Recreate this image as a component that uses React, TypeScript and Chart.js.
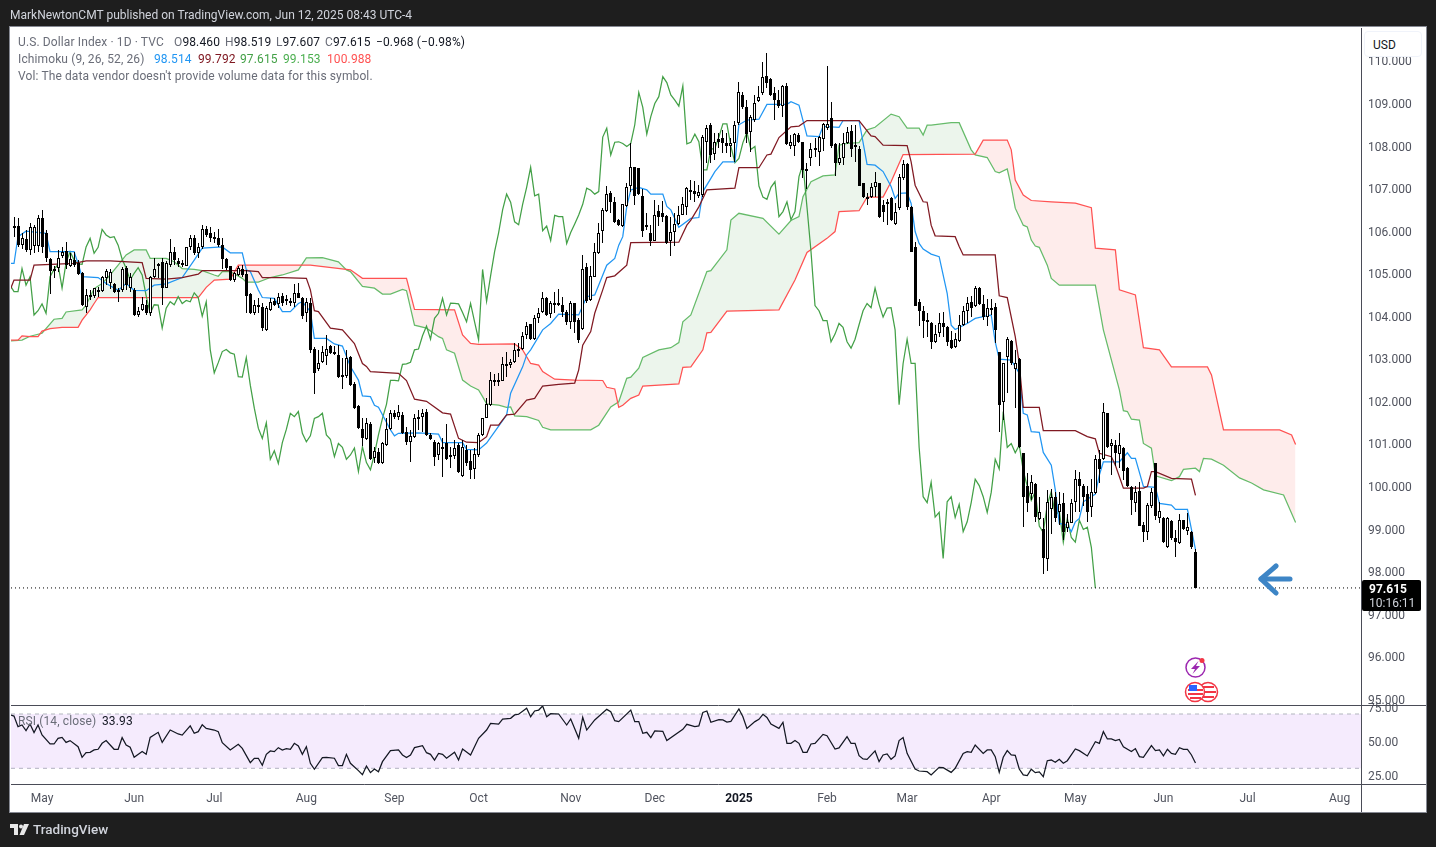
import React, { useEffect, useRef } from "react";
import { Chart, registerables } from "chart.js";

Chart.register(...registerables);

type Row = [number, number, number, number];
type Knot = [number, number];

// open, high, low, close per session
const candlesSpring2024: Row[] = [
[106.18,106.38,105.99,106.10],[106.10,106.34,105.87,106.12],[106.12,106.30,105.63,105.67],[105.67,105.95,105.59,105.83],[105.81,106.03,105.52,105.56],[105.56,106.18,105.44,106.09],[105.65,106.14,105.48,106.09],[105.65,106.38,105.52,106.30],[106.32,106.50,105.48,105.62],[105.95,106.03,105.28,105.36],
[105.34,105.38,104.52,105.07],[105.10,105.19,104.89,105.12],[105.14,105.56,105.05,105.38],[105.41,105.63,105.36,105.50],[105.53,105.74,105.12,105.20],[105.19,105.48,105.16,105.34],[105.32,105.52,105.16,105.20],[105.24,105.32,104.97,104.99],[105.01,105.05,104.24,104.26],[104.21,104.63,104.07,104.50],
[104.49,104.62,104.38,104.51],[104.48,104.66,104.42,104.66],[104.60,104.69,104.46,104.62],[104.60,104.94,104.58,104.93],[104.89,105.12,104.73,105.07],[104.79,105.10,104.65,105.05],[104.76,104.77,104.55,104.58],[104.62,104.66,104.34,104.58],[104.62,105.16,104.58,105.12],[105.14,105.18,104.62,104.73],
[104.66,105.01,104.58,104.93],[104.62,104.66,104.01,104.03],[104.03,104.22,103.99,104.13],[104.15,104.46,104.12,104.29],[104.26,104.38,104.03,104.07],[104.07,104.94,104.01,104.93],[104.93,105.38,104.91,105.10],[105.20,105.26,104.89,105.22],[105.28,105.36,104.26,104.66],[104.67,105.30,104.66,105.26],
[105.20,105.81,105.16,105.52],[105.50,105.63,105.20,105.32],[105.30,105.36,105.16,105.23],[105.24,105.32,105.16,105.22],[105.19,105.63,105.18,105.63],[105.63,105.91,105.56,105.83],[105.85,105.91,105.45,105.48],[105.48,105.73,105.36,105.62],[105.62,106.14,105.59,106.04],[106.06,106.12,105.87,105.91],
[105.95,106.09,105.75,105.85],[105.84,105.99,105.71,105.87],[105.85,106.04,105.63,105.67],[105.67,105.83,105.12,105.34],[105.34,105.36,105.08,105.13],[105.18,105.18,104.83,104.85],[104.85,105.05,104.81,105.01],[104.97,105.19,104.94,105.14],[105.12,105.20,104.93,104.97],
];
const candlesSummer2024: Row[] = [
[104.99,105.09,104.07,104.48],[104.52,104.54,104.05,104.07],[104.07,104.38,104.03,104.27],[104.24,104.42,104.07,104.26],[104.21,104.30,103.66,103.72],[103.68,104.23,103.66,104.19],[104.15,104.42,104.13,104.34],[104.36,104.42,104.24,104.27],[104.29,104.54,104.19,104.46],[104.48,104.55,104.23,104.30],
[104.40,104.50,104.26,104.37],[104.36,104.42,104.23,104.34],[104.32,104.76,104.21,104.55],[104.55,104.79,104.42,104.44],[104.42,104.45,103.93,104.00],[104.07,104.42,103.87,104.34],[104.32,104.42,103.14,103.21],[103.22,103.27,102.17,102.67],[102.75,103.21,102.72,102.91],[102.93,103.29,102.89,103.17],
[103.07,103.56,102.85,103.22],[103.29,103.32,103.11,103.14],[103.17,103.29,103.09,103.11],[103.09,103.32,102.54,102.58],[102.62,103.01,102.28,102.57],[102.60,103.21,102.56,103.03],[103.05,103.07,102.37,102.38],[102.41,102.46,101.81,101.84],[101.89,101.91,101.34,101.37],[101.34,101.60,100.94,101.13],
[101.11,101.62,101.09,101.50],[101.47,101.52,100.61,100.64],[100.68,100.93,100.54,100.84],[100.82,100.90,100.53,100.54],[100.54,101.05,100.53,101.03],[100.98,101.60,100.95,101.34],[101.34,101.80,101.33,101.72],[101.72,101.80,101.58,101.64],[101.64,101.91,101.56,101.76],[101.68,101.76,101.23,101.25],
[101.27,101.40,100.97,101.05],[101.05,101.33,100.58,101.19],[101.17,101.70,101.15,101.60],[101.62,101.79,101.33,101.64],[101.64,101.81,101.29,101.72],[101.76,101.81,101.19,101.21],[101.21,101.25,101.09,101.11],[101.05,101.09,100.49,100.70],[100.74,101.05,100.62,101.01],[100.93,101.13,100.23,100.92],
[101.03,101.46,100.61,100.64],[100.69,100.93,100.43,100.74],[100.72,101.08,100.64,100.90],[100.97,101.03,100.31,100.35],[100.25,101.09,100.23,100.93],[100.86,100.97,100.47,100.56],[100.60,100.86,100.17,100.39],[100.40,100.90,100.17,100.76],[100.74,101.25,100.70,101.21],[101.21,101.60,101.19,101.60],
[101.62,102.09,101.60,101.93],[101.91,102.70,101.89,102.49],[102.47,102.64,102.36,102.49],[102.49,102.66,102.35,102.48],
];
const candlesAutumn2024: Row[] = [
[102.48,103.05,102.47,102.87],[102.86,103.17,102.58,102.88],[102.86,102.99,102.79,102.92],[102.92,103.38,102.90,103.21],[103.22,103.38,103.05,103.23],[103.23,103.62,103.21,103.54],[103.55,103.87,103.47,103.77],[103.81,103.81,103.45,103.46],[103.46,104.03,103.44,103.95],[103.97,104.19,103.84,104.07],
[104.09,104.58,104.07,104.42],[104.42,104.46,104.01,104.03],[104.05,104.35,103.95,104.31],[104.29,104.56,104.07,104.30],[104.30,104.63,104.23,104.29],[104.27,104.46,103.99,104.09],[104.09,104.15,103.80,103.87],[103.86,104.37,103.69,104.30],[104.30,104.30,103.60,103.87],[103.91,103.95,103.38,103.45],
[103.69,105.44,103.68,105.10],[105.15,105.24,104.32,104.35],[104.38,105.17,104.37,104.95],[104.93,105.71,104.92,105.52],[105.48,106.18,105.46,105.96],[106.01,106.54,105.73,106.50],[106.48,107.05,106.46,106.87],[106.89,106.95,106.42,106.68],[106.68,106.80,106.20,106.22],[106.26,106.28,106.12,106.15],
[106.11,106.63,106.09,106.63],[106.58,107.14,106.56,107.03],[107.05,108.07,106.93,107.50],[107.50,107.50,106.62,106.83],[107.48,107.48,106.85,106.87],[106.83,106.98,105.87,106.01],[106.14,106.42,106.03,106.12],[105.95,106.14,105.64,105.78],[105.78,106.73,105.76,106.37],[106.47,106.62,106.12,106.34],
[106.42,106.72,106.22,106.34],[106.36,106.38,105.70,105.71],[105.78,106.34,105.42,105.97],[105.98,106.42,105.64,106.17],[106.17,106.58,106.15,106.38],[106.38,106.81,106.37,106.63],[106.56,107.03,106.38,107.01],[106.95,107.20,106.73,106.96],[106.94,107.19,106.69,106.87],[106.83,107.08,106.77,106.93],
];
const candlesWinter2025: Row[] = [
[106.85,108.26,106.81,108.21],[108.10,108.50,107.59,108.42],[108.50,108.53,107.61,107.79],[107.81,108.30,107.67,108.09],[108.17,108.31,107.95,108.10],[108.18,108.38,107.83,108.06],[108.08,108.30,107.83,107.99],[107.99,108.18,107.75,108.06],[108.08,108.60,107.63,108.50],[108.53,109.51,108.50,109.26],
[109.20,109.28,108.88,108.91],[108.91,109.08,108.06,108.28],[108.34,108.73,107.87,108.69],[108.61,109.20,108.57,109.00],[109.07,109.40,109.04,109.16],[109.24,109.98,109.20,109.63],[109.65,110.18,109.36,109.49],[109.57,109.59,109.18,109.20],[109.25,109.38,108.61,109.08],[109.08,109.32,108.89,108.94],
[108.93,109.43,108.69,109.41],[109.41,109.49,108.02,108.05],[107.99,108.26,107.93,108.09],[107.99,108.30,107.77,108.28],[108.26,108.30,108.06,108.10],[108.09,108.10,107.24,107.44],[107.47,107.59,106.98,107.44],[107.71,108.06,107.52,107.92],[107.90,108.18,107.75,107.95],[107.87,108.24,107.52,108.21],
[108.16,108.55,107.89,108.52],[108.42,109.88,108.38,108.52],[108.67,109.04,107.95,107.99],[108.04,108.06,107.30,107.61],[107.61,108.08,107.56,107.71],[107.71,108.30,107.56,108.08],[108.08,108.44,108.05,108.32],[108.35,108.50,107.75,107.92],[108.02,108.50,107.63,107.99],[107.93,107.99,107.05,107.06],
[107.14,107.14,106.77,106.80],[106.80,106.89,106.62,106.75],[106.81,107.12,106.77,107.03],[107.03,107.40,106.80,107.16],[107.14,107.14,106.30,106.34],[106.62,106.73,106.22,106.46],[106.64,106.75,106.15,106.69],
];
const candlesSpring2025: Row[] = [
[106.77,106.80,106.25,106.27],[106.17,106.65,106.15,106.46],[106.54,107.34,106.50,107.28],[107.24,107.67,107.20,107.58],[107.58,107.59,106.50,106.56],[106.56,106.58,105.52,105.52],[105.62,105.75,104.25,104.25],[104.33,104.40,103.77,104.13],[104.12,104.23,103.48,103.90],[103.92,104.07,103.52,103.90],
[103.83,103.87,103.23,103.40],[103.40,103.80,103.38,103.58],[103.60,104.07,103.52,103.83],[103.83,104.09,103.52,103.74],[103.74,103.76,103.29,103.40],[103.44,103.66,103.22,103.25],[103.27,103.60,103.25,103.46],[103.43,104.03,103.40,103.80],[103.80,104.23,103.78,104.13],[104.13,104.46,103.84,104.30],
[104.33,104.48,103.98,104.20],[104.23,104.70,104.21,104.66],[104.66,104.68,104.27,104.28],[104.28,104.50,103.91,103.98],[103.99,104.40,103.76,104.19],[104.17,104.40,104.03,104.20],[104.21,104.31,103.38,103.68],[103.16,103.17,101.29,101.92],[101.98,102.91,101.57,102.89],[103.05,103.52,102.19,103.46],
[103.43,103.44,102.86,102.89],[102.75,103.21,101.84,102.89],[102.99,103.01,100.90,100.92],
];
const candlesMayJune2025: Row[] = [
[100.78,100.79,99.04,99.76],[100.01,100.31,99.41,99.62],[99.82,100.27,99.68,100.10],[100.06,100.09,99.17,99.28],[99.23,99.76,99.21,99.39],[98.99,99.25,97.95,98.31],[98.29,99.92,98.02,99.64],[99.46,99.93,98.88,99.76],[99.75,99.88,99.17,99.27],[99.41,99.88,99.10,99.58],
[99.60,99.84,98.73,98.94],[99.03,99.35,98.94,99.17],[99.15,99.70,99.13,99.62],[99.64,100.39,99.41,100.17],[100.17,100.35,99.41,100.02],[100.01,100.06,99.53,99.76],[99.82,100.00,99.17,99.39],[99.51,100.17,99.28,99.86],[99.84,100.74,99.82,100.64],[100.64,100.86,100.07,100.41],
[100.64,101.97,100.62,101.76],[101.72,101.73,100.90,100.92],[100.94,101.11,100.27,101.01],[100.97,101.09,100.47,100.79],[100.76,101.25,100.43,100.97],[100.90,100.92,100.15,100.37],[100.43,100.45,99.98,100.00],[99.98,100.00,99.33,99.67],[99.62,100.00,99.41,99.88],[99.90,100.11,99.06,99.07],
[99.10,99.17,98.70,98.92],[98.94,99.60,98.74,99.57],[99.53,99.96,99.49,99.88],[100.54,100.54,99.21,99.31],[99.25,99.64,99.13,99.43],[99.25,99.29,98.67,98.69],[98.57,99.28,98.55,99.25],[99.19,99.21,98.74,98.80],[98.78,98.98,98.35,98.69],[98.68,99.35,98.65,99.21],
[99.20,99.21,98.98,98.99],[98.96,99.38,98.86,99.04],[98.94,98.96,98.52,98.57],[98.46,98.519,97.607,97.615],
];

const tenkan: Knot[] = [[0,105.24],[1,105.24],[2,105.87],[4,106],[9,105.95],[10,105.52],[16,105.52],[17,105.24],[18,104.93],[22,104.91],[24,104.77],[27,104.61],[29,104.77],[31,104.61],[34,104.6],[36,104.73],[39,104.76],[43,104.91],[46,105.32],[48,105.6],[53,105.63],[55,105.49],[58,105.49],[59,105.09],[60,105.05],[62,104.62],[63,104.44],[66,104.42],[68,104.11],[70,104.11],[72,104.3],[73,104.34],[75,104.11],[76,103.48],[79,103.48],[81,103.35],[83,103.3],[85,102.82],[87,102.5],[88,102.13],[90,102.11],[91,101.91],[92,101.86],[95,101.33],[96,101.19],[97,101.25],[102,101.26],[107,101.23],[108,101.03],[113,101.03],[114,100.87],[117,100.86],[119,101.02],[124,101.68],[125,102.19],[128,102.81],[129,103.09],[130,103.21],[133,103.68],[135,103.83],[137,104.05],[142,104.03],[144,104.46],[146,104.5],[149,105.2],[151,105.36],[152,105.67],[153,105.87],[154,106.58],[155,106.97],[157,107.03],[159,106.97],[160,106.87],[163,106.87],[164,106.58],[165,106.5],[167,106.09],[170,106.3],[172,106.32],[173,106.93],[175,107.24],[176,107.4],[178,107.63],[181,107.63],[182,108.5],[184,108.61],[187,108.63],[189,108.98],[194,108.98],[195,109.04],[197,108.96],[199,108.24],[202,108.22],[203,108.46],[207,108.44],[208,108.6],[212,108.6],[214,107.57],[216,107.55],[218,107.4],[220,107.05],[221,106.77],[222,106.89],[224,106.9],[225,106.65],[226,105.99],[227,105.71],[228,105.58],[230,105.46],[232,105.4],[234,104.54],[235,103.79],[236,103.69],[239,103.83],[241,103.95],[245,104.03],[246,103.4],[247,102.99],[250,102.97],[252,102.66],[253,101.72],[254,101.68],[255,101.29],[257,101.27],[258,100.8],[260,100.5],[261,99.92],[262,99.13],[264,99.09],[265,98.94],[266,99.17],[267,99.25],[268,99.64],[271,99.82],[272,100.27],[273,100.58],[277,100.58],[279,100.79],[280,100.66],[281,100.66],[283,100],[286,99.98],[287,99.6],[290,99.56],[291,99.46],[294,99.46],[296,98.514]];

const kijun: Knot[] = [[0,104.61],[1,104.85],[5,104.85],[6,105.2],[16,105.24],[19,105.3],[25,105.3],[33,105.26],[34,104.89],[39,104.87],[43,104.91],[47,104.99],[48,105.07],[59,105.07],[62,105.05],[63,104.91],[68,104.91],[74,104.89],[75,104.62],[76,104.13],[77,104.11],[80,103.72],[83,103.68],[86,103.36],[88,102.89],[89,102.82],[90,102.7],[97,102.66],[99,102.49],[101,102.05],[104,102],[108,101.73],[110,101.7],[112,101.13],[114,101.04],[117,101.03],[119,101.17],[120,101.44],[122,101.44],[124,101.68],[126,101.7],[129,102.03],[131,102.07],[133,102.36],[137,102.4],[141,102.43],[142,102.74],[143,103.32],[145,103.64],[146,104.07],[148,104.62],[149,104.91],[151,104.95],[154,105.2],[155,105.73],[167,105.74],[169,106.14],[170,106.26],[172,106.57],[174,106.97],[181,107.01],[182,107.49],[187,107.49],[189,107.79],[190,107.81],[192,108.2],[195,108.45],[197,108.47],[199,108.6],[212,108.6],[215,108.24],[216,108.22],[218,108.02],[224,108.01],[225,107.63],[226,107.08],[228,106.69],[229,106.68],[230,106.14],[231,105.89],[236,105.87],[237,105.64],[238,105.44],[246,105.44],[247,104.48],[249,104.44],[251,103.52],[252,102.89],[253,101.86],[257,101.86],[258,101.31],[266,101.31],[269,101.17],[271,101.12],[272,100.78],[275,100.7],[276,100.5],[278,99.96],[283,99.96],[284,100],[285,100.35],[286,100.35],[290,100.19],[295,100.17],[296,99.792]];

const chikou: number[] = [
104.73,104.58,104.58,105.12,104.73,104.93,104.03,104.13,104.29,104.07,104.93,105.10,105.22,104.66,105.26,105.52,105.32,105.23,105.22,105.63,105.83,105.48,105.62,106.04,105.91,105.85,105.87,105.67,105.34,105.13,104.85,105.01,105.14,104.97,
104.48,104.07,104.27,104.26,103.72,104.19,104.34,104.27,104.46,104.30,104.37,104.34,104.55,104.44,104.00,104.34,103.21,102.67,102.91,103.17,103.22,103.14,103.11,102.58,102.57,103.03,102.38,101.84,101.37,101.13,101.50,100.64,100.84,100.54,101.03,101.34,101.72,101.64,101.76,101.25,101.05,101.19,101.60,101.64,101.72,101.21,101.11,100.70,101.01,100.92,100.64,100.74,100.90,100.35,100.93,100.56,100.39,100.76,101.21,101.60,101.93,102.49,102.49,102.48,
102.87,102.88,102.92,103.21,103.23,103.54,103.77,103.46,103.95,104.07,104.42,104.03,104.31,104.30,104.29,104.09,103.87,104.30,103.87,103.45,105.10,104.35,104.95,105.52,105.96,106.50,106.87,106.68,106.22,106.15,106.63,107.03,107.50,106.83,106.87,106.01,106.12,105.78,106.37,106.34,106.34,105.71,105.97,106.17,106.38,106.63,107.01,106.96,106.87,106.93,
108.21,108.42,107.79,108.09,108.10,108.06,107.99,108.06,108.50,109.26,108.91,108.28,108.69,109.00,109.16,109.63,109.49,109.20,109.08,108.94,109.41,108.05,108.09,108.28,108.10,107.44,107.44,107.92,107.95,108.21,108.52,108.52,107.99,107.61,107.71,108.08,108.32,107.92,107.99,107.06,106.80,106.75,107.03,107.16,106.34,106.46,106.69,
106.27,106.46,107.28,107.58,106.56,105.52,104.25,104.13,103.90,103.90,103.40,103.58,103.83,103.74,103.40,103.25,103.46,103.80,104.13,104.30,104.20,104.66,104.28,103.98,104.19,104.20,103.68,101.92,102.89,103.46,102.89,102.89,100.92,
99.76,99.62,100.10,99.28,99.39,98.31,99.64,99.76,99.27,99.58,98.94,99.17,99.62,100.17,100.02,99.76,99.39,99.86,100.64,100.41,101.76,100.92,101.01,100.79,100.97,100.37,100.00,99.67,99.88,99.07,98.92,99.57,99.88,99.31,99.43,98.69,99.25,98.80,98.69,99.21,98.99,99.04,98.57,97.615,
];

const senkouA: Knot[] = [[0,103.42],[3,103.44],[5,103.53],[8,103.6],[11,103.93],[13,103.95],[14,104.1],[18,104.15],[19,104.26],[21,104.65],[23,104.77],[25,104.97],[27,105.2],[29,105.44],[31,105.56],[34,105.56],[35,105.36],[39,105.36],[41,105.28],[43,105.12],[46,105.1],[48,105.07],[51,104.97],[52,104.94],[53,105.05],[55,105.05],[58,104.89],[59,104.8],[62,104.8],[65,104.91],[68,104.97],[72,105.09],[74,105.37],[78,105.38],[82,105.28],[84,105.09],[85,105.05],[88,104.7],[91,104.66],[93,104.52],[95,104.52],[98,104.63],[99,104.6],[101,103.79],[104,103.72],[107,103.52],[108,103.48],[109,103.21],[111,103.13],[113,102.5],[115,102.36],[117,102.27],[118,102.11],[119,101.94],[122,101.91],[124,101.86],[125,101.87],[126,101.66],[129,101.64],[132,101.55],[133,101.39],[135,101.33],[145,101.33],[147,101.44],[150,101.87],[152,101.99],[154,102.54],[155,102.57],[157,102.78],[158,103.03],[162,103.21],[165,103.26],[167,103.38],[168,103.87],[170,104.03],[174,105.05],[175,105.07],[179,105.56],[180,106.26],[182,106.42],[188,106.3],[192,105.93],[195,106.25],[197,106.34],[198,106.81],[200,107.16],[203,107.3],[206,107.32],[207,108.02],[209,108.06],[212,108.08],[214,108.38],[216,108.44],[220,108.75],[222,108.69],[224,108.42],[227,108.42],[228,108.26],[229,108.49],[230,108.49],[235,108.55],[237,108.55],[240,107.91],[241,107.79],[244,107.73],[246,107.4],[247,107.37],[249,107.46],[250,107.05],[251,106.54],[253,106.14],[254,106.1],[255,105.79],[256,105.65],[257,105.62],[259,105.2],[260,104.89],[262,104.73],[271,104.73],[273,103.68],[277,102.27],[278,101.78],[279,101.76],[280,101.58],[282,101.56],[283,101.01],[285,100.9],[286,100.25],[290,100.14],[292,100.23],[293,100.4],[296,100.43],[297,100.35],[298,100.66],[300,100.64],[303,100.5],[307,100.2],[310,100.08],[313,99.92],[318,99.8],[321,99.153]];

const senkouB: Knot[] = [[0,103.44],[2,103.44],[3,103.54],[5,103.52],[7,103.52],[8,103.65],[10,103.71],[13,103.74],[17,103.74],[18,103.91],[20,104.15],[21,104.3],[22,104.44],[47,104.44],[49,104.68],[51,104.85],[55,104.87],[57,105.2],[75,105.2],[85,105.09],[88,104.89],[99,104.89],[101,104.16],[111,104.15],[113,103.56],[115,103.36],[117,103.34],[126,103.35],[128,103.21],[130,102.89],[132,102.85],[133,102.7],[136,102.52],[141,102.5],[148,102.49],[149,102.33],[151,102.29],[152,101.86],[153,101.91],[155,102.07],[157,102.15],[158,102.36],[162,102.38],[167,102.41],[168,102.8],[170,102.81],[173,103.21],[174,103.61],[175,103.62],[179,104.12],[192,104.15],[196,104.85],[199,105.5],[204,105.83],[206,105.99],[207,106.46],[212,106.48],[214,106.8],[218,106.8],[220,107.16],[222,107.59],[223,107.8],[241,107.81],[243,108.14],[249,108.14],[250,107.91],[251,107.2],[253,106.85],[255,106.72],[260,106.69],[266,106.66],[270,106.55],[271,105.6],[276,105.56],[277,104.62],[281,104.5],[283,103.26],[287,103.21],[290,102.81],[299,102.81],[300,102.62],[303,101.33],[317,101.33],[320,101.21],[321,100.988]];

const rsi: Knot[] = [[0,69.3],[1,68.5],[2,60.7],[3,61.9],[4,57.7],[5,62.6],[6,56.3],[7,61.9],[8,54.5],[10,47.9],[11,47.9],[12,52.1],[13,52.8],[14,49.1],[15,50.4],[17,45.9],[18,38.1],[19,41.5],[20,41.8],[21,43.5],[22,44],[23,48.4],[24,50.4],[26,44],[27,44],[28,52.6],[29,47.2],[30,45.5],[31,38.1],[33,42.3],[34,40.3],[35,52.8],[37,56.5],[38,49.1],[40,58.2],[42,55.3],[43,54.5],[45,61.2],[46,55.8],[47,57],[48,62.1],[49,59.4],[51,58.2],[52,57],[53,48.9],[55,43.5],[57,47.7],[58,44.7],[60,34.2],[61,37.4],[62,37.4],[63,32.2],[64,40.3],[65,42.8],[66,42.3],[67,45.2],[68,43.5],[69,44.5],[70,44],[71,48.4],[72,46.4],[73,40.3],[74,45.9],[75,33.7],[76,29.3],[78,37.9],[79,38.1],[81,37.4],[82,32],[83,32],[84,40.3],[85,33.7],[87,28.3],[88,25.3],[89,31.7],[90,26.8],[91,29.5],[92,27.5],[93,34.9],[95,43],[97,43.5],[98,39.8],[99,37.9],[100,39.8],[101,45.2],[103,46.7],[104,41.5],[105,40.3],[106,36.1],[107,41],[108,40.3],[109,37.4],[111,41.8],[112,36.1],[113,44.2],[115,39.8],[117,52.1],[119,58.2],[120,63.1],[122,62.6],[123,66.3],[125,66.8],[126,69.3],[127,69.8],[129,74.2],[130,68],[131,72.2],[132,72.9],[133,75.9],[134,68],[135,70.2],[137,70],[139,61.9],[140,66.3],[142,52.1],[143,67.5],[144,58.2],[146,65.6],[149,73.4],[150,71.7],[151,65.1],[152,64.4],[155,72.9],[156,64.4],[157,64.4],[158,55.8],[159,56.5],[160,52.6],[161,57.5],[163,57.2],[164,50.4],[168,58.7],[169,62.4],[171,60.7],[172,61.2],[173,71.2],[174,72.2],[175,63.9],[177,65.8],[178,65.6],[179,64.1],[180,64.6],[182,73.7],[183,68],[184,59.4],[186,64.4],[187,66.1],[188,69.8],[189,67.5],[190,62.6],[192,59.4],[193,63.9],[194,48.4],[195,48.4],[196,50.4],[197,48.4],[198,41.8],[199,41.8],[200,47.9],[201,48.4],[203,55],[204,54],[206,44.2],[207,45],[209,53.3],[210,48.4],[211,48.4],[212,39.3],[213,36.9],[214,36.6],[216,42.8],[217,34.9],[218,39.8],[219,40.6],[220,36.6],[221,39.1],[222,50.4],[223,52.6],[224,41],[226,29.5],[227,28],[229,27.5],[230,25.1],[232,30.7],[233,30.5],[235,27],[236,30],[238,41],[239,42.3],[240,41.8],[241,47.2],[243,41],[244,43.5],[245,43.5],[246,38.6],[247,27],[248,38.1],[249,43],[250,39.8],[251,39.6],[252,29.5],[253,25.1],[254,24.6],[255,29.3],[256,26.8],[257,27.3],[258,23.9],[259,35.6],[260,36.1],[261,34.4],[262,36.6],[263,33.7],[264,35.6],[266,44.2],[267,43],[269,39.1],[271,49.6],[272,48.4],[273,57],[274,51.6],[275,51.6],[276,50.4],[277,51.3],[278,45.9],[280,42.3],[281,44.5],[282,38.6],[283,38.1],[285,46.7],[286,43],[287,43.5],[288,39.1],[289,44],[290,41],[291,40.3],[292,45.2],[293,44],[294,44],[295,39.8],[296,33.93]];

const priceTicks = [95, 96, 97, 98, 99, 100, 101, 102, 103, 104, 105, 106, 107, 108, 109, 110];
const rsiTicks = [25, 50, 75];
const rsiUpper = 70;
const rsiLower = 30;
const lastClose = 97.615;
const monthTickIndex = [8, 31, 51, 74, 96, 117, 140, 161, 182, 204, 224, 245, 266, 288, 309, 332];
const monthTickLabel = ["May", "Jun", "Jul", "Aug", "Sep", "Oct", "Nov", "Dec", "2025", "Feb", "Mar", "Apr", "May", "Jun", "Jul", "Aug"];

const FONT = "Roboto, 'Noto Sans', sans-serif";
const XMIN = 0.25;
const XMAX = 337.33;
const toXY = (k: Knot[]) => k.map(([x, y]) => ({ x, y }));

const snapCandles = {
  id: "snapCandles",
  afterDatasetsUpdate(chart: any) {
    chart.data.datasets.forEach((ds: any, k: number) => {
      if (ds.type !== "bar") return;
      const minH = ds.barThickness > 1 ? 2 : 1;
      chart.getDatasetMeta(k).data.forEach((el: any) => {
        const top = Math.round(Math.min(el.y, el.base));
        let bot = Math.round(Math.max(el.y, el.base));
        if (bot - top < minH) bot = top + minH;
        el.x = Math.floor(el.x) + 0.5;
        el.y = top;
        el.base = bot;
      });
    });
  },
};

const paneLines = {
  id: "paneLines",
  afterDraw(chart: any) {
    const { ctx, chartArea, scales } = chart;
    const right = scales.y.right;
    const bottom = scales.x.bottom;
    ctx.save();
    ctx.strokeStyle = "#4a4c57";
    ctx.lineWidth = 1;
    ctx.beginPath();
    const sep = Math.round(scales.rsi.top) + 0.5;
    ctx.moveTo(chartArea.left, sep);
    ctx.lineTo(right, sep);
    const axisY = Math.round(chartArea.bottom) + 0.5;
    ctx.moveTo(chartArea.left, axisY);
    ctx.lineTo(right, axisY);
    const axisX = Math.round(chartArea.right) + 0.5;
    ctx.moveTo(axisX, chartArea.top);
    ctx.lineTo(axisX, bottom);
    ctx.stroke();
    ctx.restore();
  },
};

const T: React.FC<{ x: number; y: number; c?: string; children: React.ReactNode; style?: React.CSSProperties }> = ({ x, y, c, children, style }) => (
  <div style={{ position: "absolute", left: x, top: y - 8, height: 16, lineHeight: "16px", whiteSpace: "pre", fontFamily: FONT, fontSize: 12, color: c, ...style }}>{children}</div>
);

const GRAY = "#6a6d78";
const INK = "#131722";
const WIDE = { letterSpacing: "0.12px" };

export default function App() {
  const ref = useRef<HTMLCanvasElement>(null);
  useEffect(() => {
    const candles = [...candlesSpring2024, ...candlesSummer2024, ...candlesAutumn2024, ...candlesWinter2025, ...candlesSpring2025, ...candlesMayJune2025];
    const wicks = candles.map((c, i) => ({ x: i, y: [c[2], c[1]] }));
    const bodies = candles.map((c, i) => ({ x: i, y: [Math.min(c[0], c[3]), Math.max(c[0], c[3])] }));
    const fills = candles.map((c) => (c[3] >= c[0] ? "#ffffff" : "#000000"));
    const line = (label: string, data: any[], color: string, yAxisID: string, extra: any = {}) => ({
      type: "line" as const, label, data, borderColor: color, borderWidth: 1.25, pointRadius: 0, tension: 0, yAxisID, xAxisID: "x", order: 2, fill: false, ...extra,
    });
    const chart = new Chart(ref.current as HTMLCanvasElement, {
      type: "bar",
      data: {
        datasets: [
          { type: "bar", label: "Wick", data: wicks as any, backgroundColor: "#000000", barThickness: 1, grouped: false, inflateAmount: 0, borderWidth: 0, yAxisID: "y", xAxisID: "x", order: 1 } as any,
          { type: "bar", label: "Body", data: bodies as any, backgroundColor: fills, borderColor: "#000000", borderWidth: 1, borderSkipped: false, barThickness: 3, grouped: false, inflateAmount: 0, yAxisID: "y", xAxisID: "x", order: 0 } as any,
          line("Leading Span A", toXY(senkouA), "#66bb6a", "y", { order: 5, fill: { target: 3, above: "rgba(67,160,71,0.1)", below: "rgba(244,67,54,0.1)" } }),
          line("Leading Span B", toXY(senkouB), "#ff5252", "y", { order: 4 }),
          line("Lagging Span", chikou.map((y, x) => ({ x, y })), "#43a047", "y", { order: 3 }),
          line("Base Line", toXY(kijun), "#801922", "y"),
          line("Conversion Line", toXY(tenkan), "#2196f3", "y"),
          line("Last close", [{ x: XMIN, y: lastClose }, { x: XMAX, y: lastClose }], "#000000", "y", { borderWidth: 1, borderDash: [1, 3], order: 2 }),
          line("RSI upper", [{ x: XMIN, y: rsiUpper }, { x: XMAX, y: rsiUpper }], "#b2b5be", "rsi", { borderWidth: 1, borderDash: [4, 4], order: 6, fill: { target: 9, above: "rgba(160,60,240,0.1)", below: "rgba(160,60,240,0.1)" } }),
          line("RSI lower", [{ x: XMIN, y: rsiLower }, { x: XMAX, y: rsiLower }], "#b2b5be", "rsi", { borderWidth: 1, borderDash: [4, 4], order: 6 }),
          line("RSI", toXY(rsi), "#131722", "rsi", { order: 2 }),
        ] as any,
      },
      options: {
        animation: false,
        responsive: false,
        devicePixelRatio: 1,
        layout: { padding: { left: 11, top: 28, right: 10, bottom: 35 } },
        plugins: { legend: { display: false }, title: { display: false }, tooltip: { enabled: false } },
        scales: {
          x: {
            type: "linear", min: XMIN, max: XMAX, offset: false,
            grid: { display: false, drawTicks: false }, border: { display: false },
            afterBuildTicks: (s: any) => { s.ticks = monthTickIndex.map((value) => ({ value })); },
            afterFit: (s: any) => { s.height = 28; },
            ticks: {
              autoSkip: false, maxRotation: 0, padding: 8, color: (c: any) => (c.tick && monthTickLabel[monthTickIndex.indexOf(c.tick.value)] === "2025" ? "#131722" : "#50535e"),
              font: (c: any) => ({ family: FONT, size: 12, weight: c.tick && monthTickLabel[monthTickIndex.indexOf(c.tick.value)] === "2025" ? "bold" : "normal" }),
              callback: (v: any) => monthTickLabel[monthTickIndex.indexOf(v)] ?? "",
            },
          } as any,
          y: {
            type: "linear", position: "right", stack: "panes", stackWeight: 677, min: 94.864, max: 110.774, weight: 0,
            grid: { display: false, drawTicks: false }, border: { display: false },
            afterBuildTicks: (s: any) => { s.ticks = priceTicks.map((value) => ({ value })); },
            afterFit: (s: any) => { s.width = 65; },
            ticks: { autoSkip: false, padding: 7, labelOffset: 1.5, color: "#50535e", font: { family: FONT, size: 12 }, callback: (v: any) => Number(v).toFixed(3) },
          } as any,
          rsi: {
            type: "linear", position: "right", stack: "panes", stackWeight: 79, min: 18.43, max: 76.63, weight: 1,
            grid: { display: false, drawTicks: false }, border: { display: false },
            afterBuildTicks: (s: any) => { s.ticks = rsiTicks.map((value) => ({ value })); },
            afterFit: (s: any) => { s.width = 65; },
            ticks: { autoSkip: false, padding: 7, labelOffset: 1.5, color: "#50535e", font: { family: FONT, size: 12 }, callback: (v: any) => Number(v).toFixed(2) },
          } as any,
        },
      },
      plugins: [snapCandles, paneLines],
    });
    return () => chart.destroy();
  }, []);

  return (
    <div style={{ position: "fixed", left: 0, top: 0, width: 1436, height: 847, background: "#1e1e1e", overflow: "hidden" }}>
      <div style={{ position: "absolute", left: 10, top: 27, width: 1416, height: 785, background: "#fff", boxShadow: "0 0 0 1px #868993" }} />
      <canvas ref={ref} width={1436} height={847} style={{ position: "absolute", left: 0, top: 0, width: 1436, height: 847 }} />
      <T x={10} y={15} c="#d1d4dc">MarkNewtonCMT published on TradingView.com, Jun 12, 2025 08:43 UTC-4</T>
      <T x={18} y={42} c={GRAY} style={WIDE}>U.S. Dollar Index · 1D · TVC</T>
      <T x={174} y={42} c={GRAY} style={WIDE}>O<span style={{ color: INK }}>98.460</span></T>
      <T x={225} y={42} c={GRAY} style={WIDE}>H<span style={{ color: INK }}>98.519</span></T>
      <T x={276} y={42} c={GRAY} style={WIDE}>L<span style={{ color: INK }}>97.607</span></T>
      <T x={325} y={42} c={GRAY} style={WIDE}>C<span style={{ color: INK }}>97.615</span></T>
      <T x={376} y={42} c={INK} style={WIDE}>−0.968 (−0.98%)</T>
      <T x={18} y={59} c={GRAY} style={WIDE}>Ichimoku (9, 26, 52, 26)</T>
      <T x={154} y={59} c="#2196f3" style={WIDE}>98.514</T>
      <T x={198} y={59} c="#801922" style={WIDE}>99.792</T>
      <T x={240} y={59} c="#43a047" style={WIDE}>97.615</T>
      <T x={283} y={59} c="#4caf50" style={WIDE}>99.153</T>
      <T x={327} y={59} c="#ff5252" style={WIDE}>100.988</T>
      <T x={18} y={76} c={GRAY} style={WIDE}>Vol: The data vendor doesn't provide volume data for this symbol.</T>
      <T x={18} y={721} c={GRAY} style={WIDE}>RSI (14, close)</T>
      <T x={102} y={721} c={INK} style={WIDE}>33.93</T>
      <div style={{ position: "absolute", left: 1364, top: 31, width: 58, height: 26, boxSizing: "border-box", background: "#fff", border: "1px solid #f0f3fa", borderRadius: 4 }} />
      <T x={1373} y={45} c={INK}>USD</T>
      <div style={{ position: "absolute", left: 1362, top: 580, width: 59, height: 31, background: "#000", borderRadius: 2 }} />
      <T x={1369} y={589} c="#fff" style={{ fontWeight: 700 }}>97.615</T>
      <T x={1369} y={603} c="#d1d4dc">10:16:11</T>
      <svg width={1436} height={847} style={{ position: "absolute", left: 0, top: 0, pointerEvents: "none" }}>
        <g fill="none" stroke="#3d85c6" strokeWidth={5} strokeLinecap="round" strokeLinejoin="round">
          <path d="M1290 579 H1261" />
          <path d="M1276 566 L1261 579 L1276 593" />
        </g>
        <circle cx={1195.5} cy={667.5} r={9.5} fill="#fff" stroke="#9c27b0" strokeWidth={1.5} />
        <path d="M1198.5 661 L1191 669 H1195 L1192.5 674 L1200 666 H1196 Z" fill="#9c27b0" />
        <circle cx={1202} cy={660.5} r={2.5} fill="#f23645" />
        <circle cx={1208} cy={692} r={9.5} fill="#fff" stroke="#f23645" strokeWidth={1.5} />
        <path d="M1203 687 H1214 M1201 692 H1216 M1203 697 H1214" stroke="#f23645" strokeWidth={2} />
        <circle cx={1195} cy={692} r={9.5} fill="#fff" stroke="#f23645" strokeWidth={1.5} />
        <path d="M1188 690 H1203 M1188 694 H1203 M1190 698 H1201" stroke="#f23645" strokeWidth={2} />
        <rect x={1189} y={685} width={8} height={6} fill="#2962ff" />
        <g fill="#e8e8e8">
          <path d="M10 824 H18 V835 H14 V828 H10 Z" />
          <circle cx={21} cy={826.5} r={2} />
          <path d="M24 824 H29 L24 835 H19.5 Z" />
        </g>
      </svg>
      <T x={33} y={829} c="#d1d4dc" style={{ fontSize: 13.5, fontWeight: 500 }}>TradingView</T>
    </div>
  );
}
